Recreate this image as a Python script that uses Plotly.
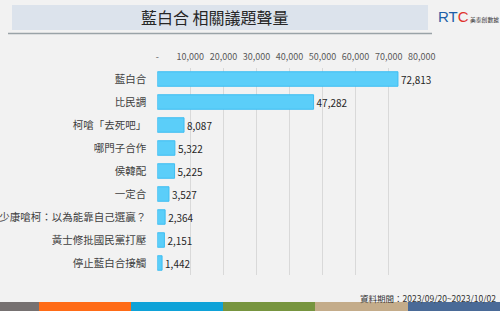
import plotly.graph_objects as go

categories = ["藍白合", "比民調", "柯嗆「去死吧」", "哪門子合作", "侯韓配", "一定合",
              "趙少康嗆柯：以為能靠自己選贏？", "黃士修批國民黨打壓", "停止藍白合接觸"]
values = [72813, 47282, 8087, 5322, 5225, 3527, 2364, 2151, 1442]
tick_vals = [0, 10000, 20000, 30000, 40000, 50000, 60000, 70000, 80000]
tick_text = ["-", "10,000", "20,000", "30,000", "40,000", "50,000", "60,000", "70,000", "80,000"]
title_text = "藍白合 相關議題聲量"
footer_text = "資料期間：2023/09/20~2023/10/02"
stripe_colors = ["#767171", "#FF6B16", "#0EA2D8", "#77953F", "#C4AC8A", "#4A6A97"]
stripe_edges = [0, 39, 131, 223, 315, 408, 500]

FONT = "Noto Sans CJK TC"
W, H = 500, 311

fig = go.Figure(go.Bar(
    x=values, y=categories, orientation="h",
    marker=dict(color="#5BCEF9", line=dict(color="#3DBDF2", width=1)),
    text=[f"{v:,}" for v in values], textposition="outside",
    textfont=dict(family=FONT, size=11, color="#262626"),
    cliponaxis=False, width=0.63,
))

shapes = []
shapes.append(dict(type="rect", xref="paper", yref="paper",
                   x0=12 / W, x1=428 / W, y0=1 - 30 / H, y1=1 - 5 / H,
                   fillcolor="#DCE3EC", line=dict(width=0), layer="below"))
shapes.append(dict(type="line", xref="paper", yref="paper",
                   x0=8 / W, x1=432 / W, y0=1 - 33.5 / H, y1=1 - 33.5 / H,
                   line=dict(color="#9AA3A8", width=1.5)))
for i, c in enumerate(stripe_colors):
    shapes.append(dict(type="rect", xref="paper", yref="paper",
                       x0=stripe_edges[i] / W, x1=stripe_edges[i + 1] / W,
                       y0=0, y1=9 / H, fillcolor=c, line=dict(width=0)))

annotations = [
    dict(text=title_text, xref="paper", yref="paper", x=215 / W, y=1 - 17.5 / H,
         showarrow=False, xanchor="center", yanchor="middle",
         font=dict(family=FONT, size=16, color="#262626")),
    dict(text=footer_text, xref="paper", yref="paper", x=498 / W, y=1 - 298 / H,
         showarrow=False, xanchor="right", yanchor="middle",
         font=dict(family=FONT, size=8.5, color="#333333")),
    dict(text="<span style='color:#1C5FA8'>RT</span><span style='color:#E0322C'>C</span>",
         xref="paper", yref="paper", x=436 / W, y=1 - 16 / H,
         showarrow=False, xanchor="left", yanchor="middle",
         font=dict(family="Liberation Sans", size=15, color="#1C5FA8")),
    dict(text="美泰創數據", xref="paper", yref="paper", x=468 / W, y=1 - 19 / H,
         showarrow=False, xanchor="left", yanchor="middle",
         font=dict(family=FONT, size=5.8, color="#333333")),
]

fig.update_layout(
    width=W, height=H, margin=dict(l=0, r=0, t=0, b=0),
    paper_bgcolor="#F2F2F2", plot_bgcolor="#F2F2F2",
    showlegend=False, bargap=0.37,
    shapes=shapes, annotations=annotations,
    xaxis=dict(domain=[157.3 / W, 421.7 / W], range=[0, 80000], side="top",
               tickvals=tick_vals, ticktext=tick_text, showgrid=True,
               gridcolor="#D9D9D9", gridwidth=1, zeroline=False, showline=False,
               tickfont=dict(family=FONT, size=9, color="#595959"),
               ticks="", automargin=False, ticklabelstandoff=5),
    yaxis=dict(domain=[1 - 274.5 / H, 1 - 67.5 / H], autorange="reversed",
               tickfont=dict(family=FONT, size=10.5, color="#404040"),
               ticks="", showgrid=False, zeroline=False, showline=False,
               automargin=False, ticklabelstandoff=10),
)

fig.write_html("out.html")
